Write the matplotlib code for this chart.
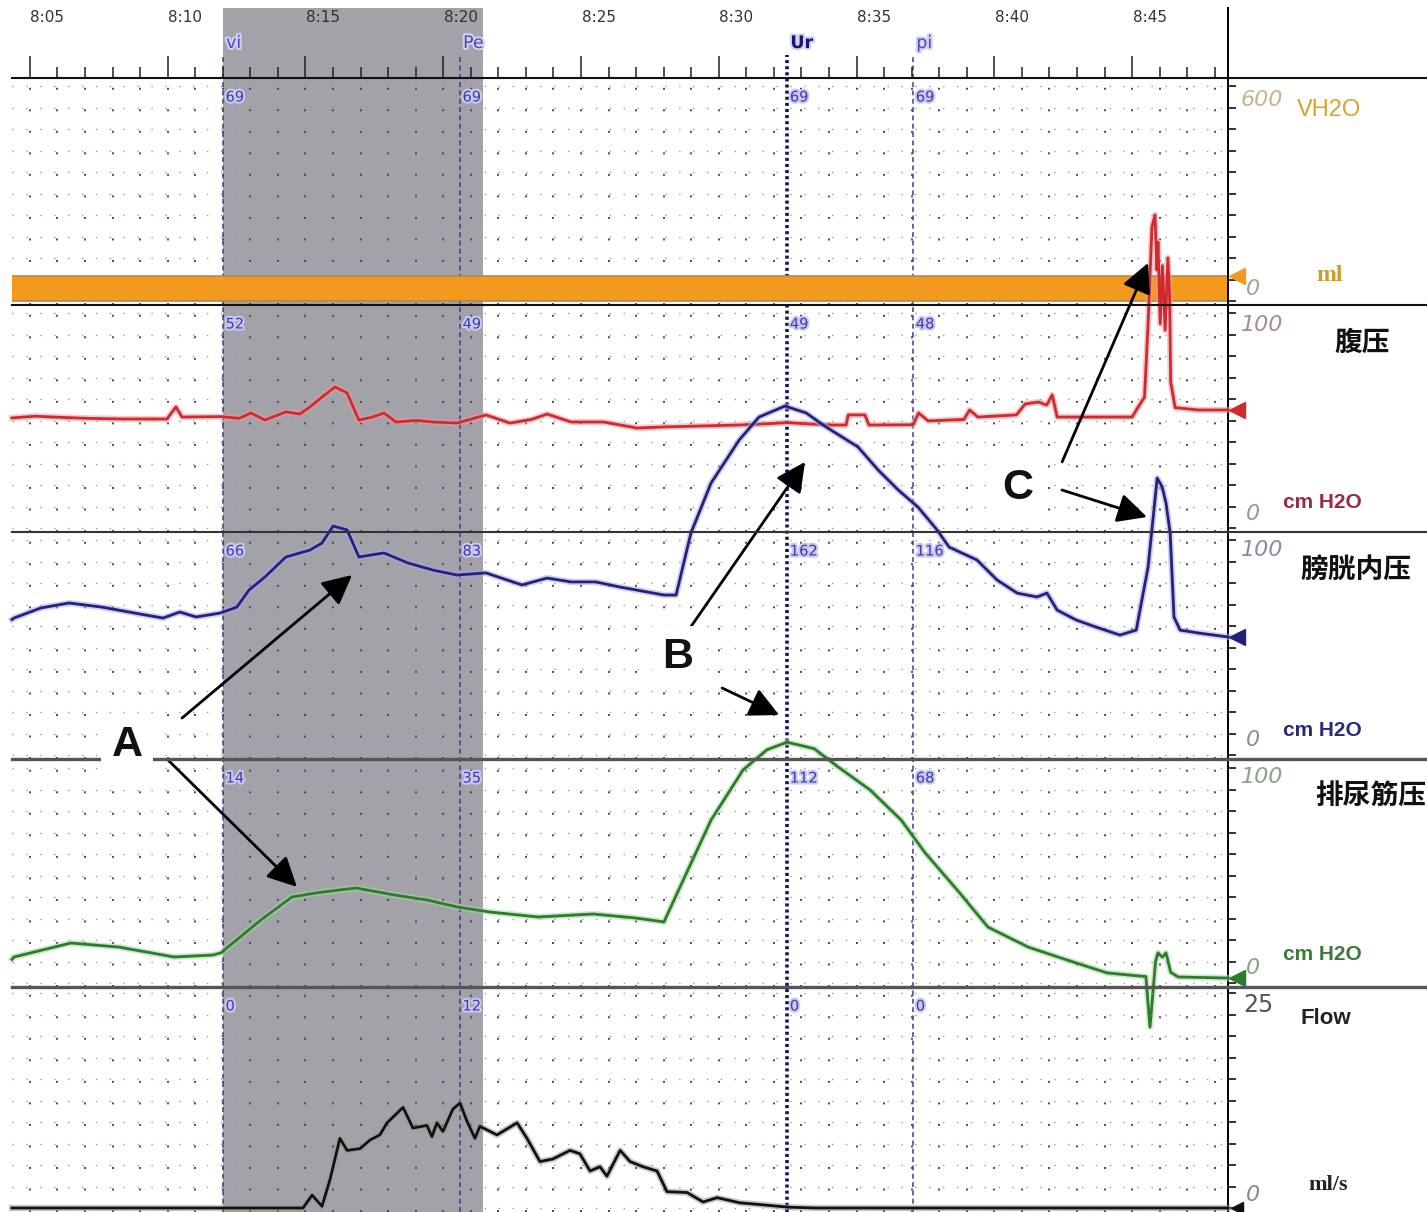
import numpy as np
import matplotlib
matplotlib.use('Agg')
import matplotlib.pyplot as plt
from matplotlib.lines import Line2D
from matplotlib import patheffects as pe
from matplotlib.transforms import offset_copy

plt.rcParams['font.family'] = ['DejaVu Sans']
plt.rcParams['lines.scale_dashes'] = False

W, H = 1427, 1212

# time axis in minutes after 8:00
T0, T1 = 4.35, 48.48

# events
event_names = ['vi', 'Pe', 'Ur', 'pi']
event_times = [12.0, 20.6, 32.48, 37.05]
void_span = (12.0, 21.44)

vol_at_events = [69, 69, 69, 69]
pabd_at_events = [52, 49, 49, 48]
pves_at_events = [66, 83, 162, 116]
pdet_at_events = [14, 35, 112, 68]
flow_at_events = [0, 12, 0, 0]

# infused volume (ml)
vol_t = [T0, T1]
vol_v = [69, 69]

# abdominal pressure (cm H2O)
pabd_t = [4.35, 5.20, 5.83, 7.10, 8.34, 9.97, 10.30, 10.52, 11.93, 12.60,
          13.02, 13.53, 14.29, 14.80, 15.16, 15.60, 16.07, 16.51, 16.94, 17.40,
          17.85, 18.28, 19.00, 19.63, 20.50, 21.55, 22.42, 23.20, 23.77, 24.64,
          25.83, 27.03, 28.01, 29.50, 31.00, 32.48, 34.00, 34.62, 34.70, 35.30,
          35.45, 37.05, 37.25, 37.60, 38.90, 39.10, 39.40, 40.80, 41.12, 41.60,
          41.90, 42.10, 42.28, 43.50, 45.00, 45.22, 45.45, 45.58, 45.72, 45.83,
          45.90, 45.94, 46.02, 46.10, 46.20, 46.30, 46.36, 46.40, 46.56, 47.40,
          48.48]
pabd_v = [51.2, 52.0, 51.6, 51.0, 50.7, 50.7, 56.3, 51.6, 51.8, 51.0,
          53.5, 50.2, 54.0, 53.0, 56.3, 60.9, 65.6, 62.8, 50.2, 51.5,
          53.5, 49.3, 50.0, 49.3, 48.8, 52.6, 48.8, 50.5, 53.0, 49.3,
          49.3, 46.5, 47.0, 47.5, 48.0, 49.0, 47.9, 47.9, 52.6, 52.6,
          47.9, 48.0, 53.5, 49.8, 50.5, 54.9, 51.6, 52.6, 57.7, 58.6,
          57.2, 61.9, 51.6, 51.6, 51.6, 56.3, 60.9, 95.0, 140.0, 145.6,
          120.0, 133.0, 95.0, 122.0, 92.0, 125.6, 108.0, 68.0, 56.0, 54.9,
          54.9]

# vesical pressure (cm H2O)
pves_t = [4.35, 4.42, 5.40, 6.42, 7.61, 8.81, 9.83, 10.44, 11.03, 11.90,
          12.51, 12.95, 13.53, 14.29, 15.16, 15.60, 16.00, 16.51, 16.94, 17.85,
          18.72, 19.63, 20.50, 21.55, 21.99, 22.86, 23.77, 24.64, 25.54, 26.42,
          27.03, 28.01, 28.45, 28.99, 29.72, 30.74, 31.46, 32.40, 33.17, 33.89,
          35.05, 35.78, 36.51, 37.23, 37.92, 38.36, 39.37, 40.10, 40.83, 41.55,
          41.91, 42.28, 42.97, 43.69, 44.56, 45.15, 45.58, 45.91, 46.09, 46.23,
          46.38, 46.52, 46.74, 47.43, 48.48]
pves_v = [63.0, 63.7, 68.4, 70.7, 68.8, 66.0, 63.7, 66.5, 64.2, 66.0,
          68.8, 76.7, 82.8, 92.1, 95.3, 98.6, 106.5, 104.7, 92.1, 94.0,
          89.3, 86.0, 83.7, 84.7, 82.8, 79.1, 82.3, 80.5, 80.5, 78.1,
          76.7, 74.4, 74.4, 103.3, 126.5, 146.5, 157.2, 162.3, 159.1, 152.6,
          143.3, 132.6, 123.3, 115.3, 104.7, 96.7, 90.7, 81.4, 75.3, 73.5,
          75.3, 67.4, 62.8, 59.5, 55.8, 58.1, 87.4, 128.8, 124.7, 117.2,
          103.3, 64.2, 58.1, 56.7, 54.9]

# detrusor pressure (cm H2O)
pdet_t = [4.35, 4.42, 6.49, 8.23, 10.23, 11.64, 11.93, 13.38, 14.51, 15.38,
          16.83, 18.25, 19.41, 20.54, 21.70, 23.44, 25.44, 27.00, 28.01, 28.88,
          29.72, 30.88, 31.75, 32.48, 33.46, 34.33, 35.49, 36.62, 37.49, 38.65,
          39.77, 41.23, 42.64, 44.09, 45.22, 45.50, 45.65, 45.75, 45.85, 45.94,
          46.10, 46.23, 46.40, 46.67, 48.48]
pdet_v = [11.0, 12.1, 18.6, 16.7, 12.1, 13.0, 14.0, 29.3, 40.0, 41.9,
          44.2, 40.9, 38.6, 35.3, 33.0, 30.7, 32.1, 30.2, 28.4, 52.6,
          75.8, 99.1, 108.5, 112.0, 109.0, 100.5, 89.8, 75.8, 60.5, 43.3,
          26.0, 16.7, 10.7, 4.7, 3.3, 3.0, -20.5, -5.0, 10.0, 14.0,
          12.0, 14.0, 5.0, 2.8, 2.3]

# urine flow (ml/s)
flow_t = [4.35, 14.91, 15.24, 15.60, 15.89, 16.25, 16.51, 16.98, 17.34, 17.70,
          17.96, 18.54, 18.90, 19.41, 19.59, 19.77, 19.99, 20.35, 20.61, 20.86,
          21.15, 21.33, 21.95, 22.68, 23.04, 23.51, 23.98, 24.60, 24.96, 25.33,
          25.69, 25.94, 26.42, 26.78, 27.25, 27.76, 28.12, 28.85, 29.43, 29.94,
          30.77, 31.50, 32.50, 33.50, 48.48]
flow_v = [0, 0, 1.5, 0.2, 3.3, 8.1, 6.7, 6.9, 7.9, 8.5,
          9.9, 11.7, 9.3, 9.6, 8.3, 9.9, 8.9, 11.5, 12.2, 10.1,
          8.1, 9.5, 8.5, 9.9, 8.1, 5.4, 5.7, 6.7, 6.3, 4.3,
          4.8, 3.7, 6.7, 5.4, 4.8, 4.3, 1.9, 1.8, 0.7, 1.2,
          0.6, 0.4, 0.1, 0, 0]

# panel rows in pixels: top, bottom
X0, X1 = 12, 1228
RULER = (8, 78)
rows = [(78, 305), (305, 532), (532, 759), (759, 987), (987, 1212)]
FULL_PX = 215   # pixels for full scale
PAD_PX = 4      # zero sits this far above the panel bottom


def box(x0, y0, x1, y1):
    return [x0 / W, 1 - y1 / H, (x1 - x0) / W, (y1 - y0) / H]


def ftext(x, y, s, **kw):
    return fig.text(x / W, 1 - y / H, s, **kw)


fig = plt.figure(figsize=(W / 100, H / 100), dpi=100)

# background: shaded voiding period and event lines
ax_bg = fig.add_axes(box(X0, RULER[0], X1, H), zorder=0)
ax_bg.set_xlim(T0, T1)
ax_bg.set_ylim(0, 1)
ax_bg.axis('off')
ax_bg.axvspan(*void_span, color='#a2a2a8', lw=0)
line_top = (H - 55) / (H - RULER[0])
for name, t in zip(event_names, event_times):
    if name == 'Ur':
        ax_bg.axvline(t, 0, line_top, color='#14145e', lw=2.6,
                      linestyle=(0, (2.2, 2.2)), zorder=3)
    else:
        ax_bg.axvline(t, 0, line_top, color='#3c3c90', lw=1.1,
                      linestyle=(0, (3.5, 2.5)), zorder=3)

# time ruler
ax_t = fig.add_axes(box(X0, RULER[0], X1, RULER[1]), zorder=2)
ax_t.patch.set_alpha(0)
ax_t.set_xlim(T0, T1)
ax_t.set_ylim(0, 1)
for s in ['top', 'left', 'bottom']:
    ax_t.spines[s].set_visible(False)
ax_t.spines['right'].set_linewidth(1.4)
ax_t.set_yticks([])
ax_t.set_xticks(range(5, 46, 5))
ax_t.set_xticks(range(5, 49), minor=True)
ax_t.tick_params(axis='x', which='major', direction='in', length=16, width=1.1,
                 color='#222', labelbottom=False)
ax_t.tick_params(axis='x', which='minor', direction='in', length=8, width=1.1,
                 color='#222')
for m in range(5, 46, 5):
    ax_t.text(m + 0.02, 0.86, '8:%02d' % m, ha='left', va='center',
              fontsize=11, color='#333333')
for name, t in zip(event_names, event_times):
    ax_t.text(t + 0.12, 0.5, name, ha='left', va='center', fontsize=12.5,
              color='#16166a' if name == 'Ur' else '#4a4ab8',
              fontweight='bold' if name == 'Ur' else 'normal',
              path_effects=[pe.withStroke(linewidth=3, foreground='#d0d0f4')])

channels = [
    dict(t=vol_t, v=vol_v, full=600, ev=vol_at_events, color='#f39a1e',
         halo='#f7c27a'),
    dict(t=pabd_t, v=pabd_v, full=100, ev=pabd_at_events, color='#cf2a30',
         halo='#f09aa0'),
    dict(t=pves_t, v=pves_v, full=100, ev=pves_at_events, color='#22227e',
         halo='#a8a8e0'),
    dict(t=pdet_t, v=pdet_v, full=100, ev=pdet_at_events, color='#2e7a2e',
         halo='#a6d8a0'),
    dict(t=flow_t, v=flow_v, full=25, ev=flow_at_events, color='#111111',
         halo='#999999'),
]

axes = []
for (top, bot), ch in zip(rows, channels):
    ax = fig.add_axes(box(X0, top, X1, bot), zorder=1)
    ax.patch.set_alpha(0)
    h = bot - top
    per_px = ch['full'] / FULL_PX
    ax.set_xlim(T0, T1)
    ax.set_ylim(-PAD_PX * per_px, (h - PAD_PX) * per_px)
    for s in ['top', 'left', 'bottom']:
        ax.spines[s].set_visible(False)
    ax.spines['right'].set_linewidth(1.4)
    ax.yaxis.tick_right()
    ax.set_yticks(np.linspace(0, ch['full'], 11))
    ax.tick_params(axis='y', direction='out', length=6, width=1.4,
                   color='#333', labelright=False)
    ax.set_xticks(range(5, 49), minor=True)
    ax.set_xticks([])
    ax.tick_params(axis='x', which='both', length=0, labelbottom=False)
    ax.grid(True, which='minor', axis='x', color='#4a4a4a', lw=1.4,
            linestyle=(0, (1.4, 14.1)))
    ax.grid(True, which='major', axis='y', color='#9a9a9a', lw=1.0,
            linestyle=(0, (1.0, 9.0)))
    for t, val in zip(event_times, ch['ev']):
        ax.text(t + 0.1, 1 - 19 / h, str(val), transform=ax.get_xaxis_transform(),
                ha='left', va='center', fontsize=10.5, color='#3c3cae',
                path_effects=[pe.withStroke(linewidth=3, foreground='#c8c8f0')])
    axes.append(ax)

ax_vol, ax_abd, ax_ves, ax_det, ax_flow = axes

# volume band
ax_vol.fill_between(vol_t, 0, vol_v, color='#f39a1e', lw=0, zorder=2)
ax_vol.plot(vol_t, vol_v, color='#b88a40', lw=1.2, zorder=2)
ax_vol.plot(vol_t, [0, 0], color='#b88a40', lw=1.2, zorder=2)

for ax, ch in zip(axes[1:], channels[1:]):
    ax.plot(ch['t'], ch['v'], color=ch['color'], lw=2.0, clip_on=False, zorder=4,
            path_effects=[pe.Stroke(linewidth=4.5, foreground=ch['halo'], alpha=0.55),
                          pe.Normal()])

# end-of-trace markers beside the scale
for ax, ch, ms in zip(axes, channels, [11, 12, 12, 12, 8]):
    tr = offset_copy(ax.transData, fig=fig, x=9, y=0, units='dots')
    ax.plot(ch['t'][-1], ch['v'][-1], marker='<', ms=ms, color=ch['color'],
            transform=tr, clip_on=False, zorder=5)

# separators across the full width
for y, col, lw in [(78, '#111', 1.5), (305, '#111', 1.5), (532, '#333', 1.5),
                   (759, '#555', 2.4), (987, '#555', 2.4)]:
    fig.add_artist(Line2D([X0 / W, 1], [1 - y / H, 1 - y / H], color=col, lw=lw,
                          transform=fig.transFigure, zorder=6))

# scale labels on the right
italic = dict(style='italic', fontsize=16, va='center', ha='left')
sans_b = ['Liberation Sans', 'DejaVu Sans']
serif_b = ['Liberation Serif', 'DejaVu Serif']
cjk = ['Noto Sans CJK SC', 'DejaVu Sans']

ftext(1241, 100, '600', color='#c8b48a', **italic)
ftext(1297, 110, 'VH2O', color='#d9a22a', fontsize=17, va='center', family=sans_b)
ftext(1316, 275, 'ml', color='#cf9a30', fontsize=17, va='center', weight='bold',
      family=serif_b)
ftext(1246, 289, '0', color='#a8a098', **italic)

ftext(1241, 325, '100', color='#a88a90', **italic)
ftext(1362, 343, '腹压', color='#111', fontsize=20, ha='center', va='center',
      weight='bold', family=cjk)
ftext(1246, 514, '0', color='#a09098', **italic)
ftext(1283, 502, 'cm H2O', color='#9a2a44', fontsize=15, va='center',
      weight='bold', family=sans_b)

ftext(1241, 550, '100', color='#8a8aa8', **italic)
ftext(1300, 570, '膀胱内压', color='#111', fontsize=20, ha='left', va='center',
      weight='bold', family=cjk)
ftext(1246, 740, '0', color='#8a8aa8', **italic)
ftext(1283, 730, 'cm H2O', color='#2a2a7a', fontsize=15, va='center',
      weight='bold', family=sans_b)

ftext(1241, 777, '100', color='#8aa08a', **italic)
ftext(1315, 797, '排尿筋压', color='#111', fontsize=20, ha='left', va='center',
      weight='bold', family=cjk)
ftext(1246, 968, '0', color='#8aa08a', **italic)
ftext(1283, 955, 'cm H2O', color='#3a7a3a', fontsize=15, va='center',
      weight='bold', family=sans_b)

ftext(1243, 1005, '25', color='#555', fontsize=17, va='center')
ftext(1300, 1018, 'Flow', color='#222', fontsize=16, va='center', weight='bold',
      family=sans_b)
ftext(1246, 1195, '0', color='#888', **italic)
ftext(1308, 1185, 'ml/s', color='#222', fontsize=16, va='center', weight='bold',
      family=serif_b)

# annotation arrows
arrow = dict(arrowstyle='-|>,head_length=0.9,head_width=0.45', mutation_scale=20,
             lw=2.0, color='black', shrinkA=0, shrinkB=0)
arrows = [
    (ax_ves, (16.69, 83.7), (-170, -143)),
    (ax_det, (14.69, 44.7), (-129, 127)),
    (ax_ves, (33.13, 136.3), (-115, -166)),
    (ax_ves, (32.19, 18.6), (-57, 27)),
    (ax_abd, (45.58, 123.3), (-86, -199)),
    (ax_ves, (45.54, 110.7), (-85, 27)),
]
for ax, xy, off in arrows:
    ax.annotate('', xy=xy, xytext=off, textcoords='offset pixels',
                arrowprops=arrow, annotation_clip=False, zorder=7)

for s, x, y in [('A', 127, 745), ('B', 678, 657), ('C', 1018, 488)]:
    ftext(x, y, s, fontsize=31, weight='bold', family=sans_b, ha='center',
          va='center', color='#111', zorder=8,
          bbox=dict(boxstyle='square,pad=0.25', fc='white', ec='none'))

fig.savefig('out.png', dpi=100, facecolor='white')
